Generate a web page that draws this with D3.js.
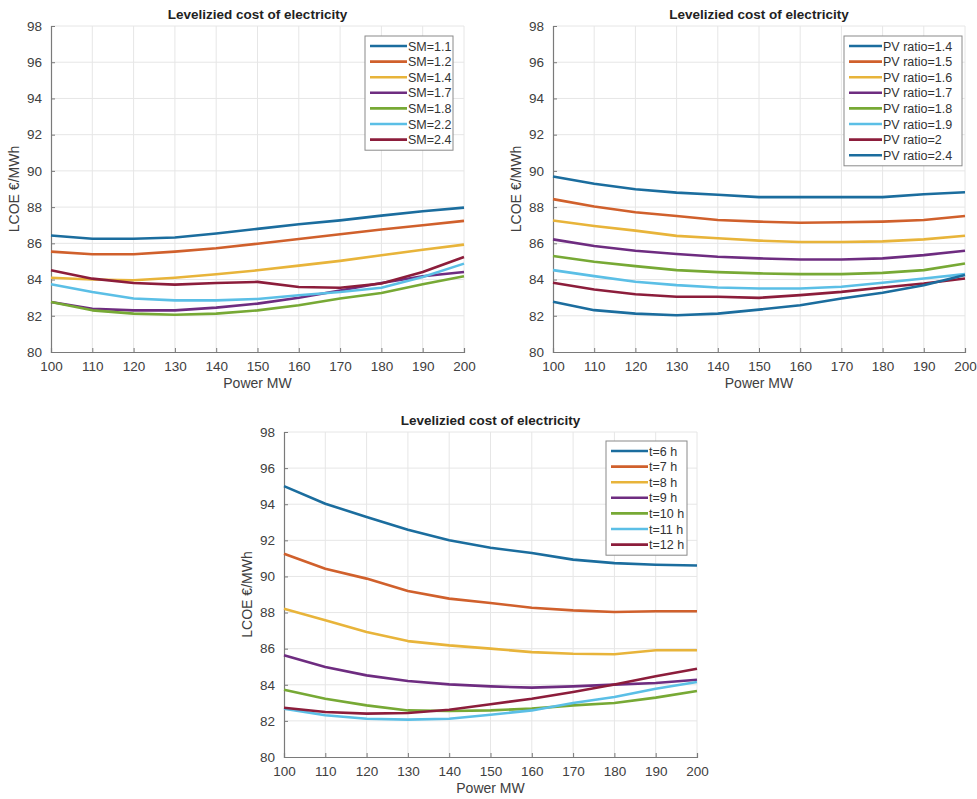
<!DOCTYPE html>
<html>
<head>
<meta charset="utf-8">
<script src="https://cdn.jsdelivr.net/npm/d3@7"></script>
<style>
  body { margin: 0; background: #fff; }
  svg text { font-family: "Liberation Sans", Arial, sans-serif; }
</style>
</head>
<body>
<svg id="chart" width="977" height="799"></svg>
<script>
// x values shared by all three panels (Power MW)
var power = [100, 110, 120, 130, 140, 150, 160, 170, 180, 190, 200];
var yTicks = [80, 82, 84, 86, 88, 90, 92, 94, 96, 98];

// panel 1 : solar multiple
var smLabels = ["SM=1.1", "SM=1.2", "SM=1.4", "SM=1.7", "SM=1.8", "SM=2.2", "SM=2.4"];
var sm11 = [86.43, 86.25, 86.25, 86.32, 86.54, 86.80, 87.05, 87.27, 87.53, 87.77, 87.97];
var sm12 = [85.54, 85.40, 85.40, 85.54, 85.73, 85.98, 86.24, 86.50, 86.76, 87.00, 87.24];
var sm14 = [84.10, 84.00, 83.96, 84.10, 84.29, 84.51, 84.77, 85.03, 85.34, 85.65, 85.93];
var sm17 = [82.76, 82.39, 82.30, 82.30, 82.45, 82.67, 83.00, 83.40, 83.81, 84.18, 84.42];
var sm18 = [82.76, 82.30, 82.12, 82.06, 82.12, 82.30, 82.58, 82.95, 83.26, 83.74, 84.18];
var sm22 = [83.74, 83.31, 82.95, 82.85, 82.85, 82.93, 83.13, 83.31, 83.55, 84.14, 84.88];
var sm24 = [84.51, 84.05, 83.81, 83.72, 83.81, 83.87, 83.59, 83.55, 83.78, 84.42, 85.25];

// panel 2 : PV ratio
var pvLabels = ["PV ratio=1.4", "PV ratio=1.5", "PV ratio=1.6", "PV ratio=1.7",
                "PV ratio=1.8", "PV ratio=1.9", "PV ratio=2", "PV ratio=2.4"];
var pv14 = [89.69, 89.29, 88.99, 88.80, 88.68, 88.55, 88.55, 88.55, 88.55, 88.71, 88.82];
var pv15 = [88.44, 88.03, 87.72, 87.51, 87.29, 87.20, 87.14, 87.16, 87.20, 87.29, 87.51];
var pv16 = [87.26, 86.96, 86.70, 86.41, 86.28, 86.15, 86.07, 86.07, 86.11, 86.22, 86.42];
var pv17 = [86.22, 85.85, 85.59, 85.41, 85.26, 85.17, 85.11, 85.11, 85.17, 85.35, 85.59];
var pv18 = [85.30, 84.98, 84.74, 84.52, 84.41, 84.34, 84.30, 84.30, 84.37, 84.52, 84.89];
var pv19 = [84.52, 84.19, 83.88, 83.69, 83.56, 83.51, 83.51, 83.60, 83.82, 84.06, 84.30];
var pv20 = [83.82, 83.45, 83.19, 83.05, 83.05, 82.99, 83.14, 83.32, 83.56, 83.78, 84.06];
var pv24 = [82.77, 82.31, 82.12, 82.03, 82.12, 82.34, 82.58, 82.95, 83.27, 83.69, 84.25];

// panel 3 : storage hours
var tLabels = ["t=6 h", "t=7 h", "t=8 h", "t=9 h", "t=10 h", "t=11 h", "t=12 h"];
var t6  = [95.00, 94.03, 93.29, 92.59, 92.00, 91.59, 91.30, 90.93, 90.74, 90.65, 90.61];
var t7  = [91.26, 90.43, 89.88, 89.19, 88.77, 88.53, 88.27, 88.12, 88.03, 88.07, 88.07];
var t8  = [88.21, 87.57, 86.92, 86.42, 86.18, 86.00, 85.81, 85.72, 85.69, 85.91, 85.91];
var t9  = [85.63, 84.98, 84.52, 84.21, 84.02, 83.91, 83.84, 83.91, 84.01, 84.10, 84.28];
var t10 = [83.73, 83.23, 82.86, 82.58, 82.55, 82.58, 82.68, 82.86, 82.99, 83.29, 83.66];
var t11 = [82.68, 82.31, 82.12, 82.07, 82.12, 82.34, 82.58, 82.99, 83.32, 83.78, 84.15];
var t12 = [82.73, 82.49, 82.40, 82.44, 82.62, 82.92, 83.23, 83.60, 84.02, 84.47, 84.89];

// matlab-ish line colours (slightly muted like the scan)
var colors = ["#1b6d9e", "#d0602c", "#e8b43a", "#6e2c80", "#77a935", "#5bbfe6", "#8c1d3b"];

var svg = d3.select("#chart");

function drawPanel(box, series, labels, legendBox) {
    var g = svg.append("g");
    var x = d3.scaleLinear().domain([100, 200]).range([box.x0, box.x1]);
    var y = d3.scaleLinear().domain([80, 98]).range([box.y1, box.y0]);

    //grid
    g.selectAll("line.vgrid").data(power.slice(1)).enter().append("line")
        .attr("x1", d => x(d)).attr("x2", d => x(d))
        .attr("y1", box.y0).attr("y2", box.y1)
        .attr("stroke", "#e6e6e6").attr("stroke-width", 1);
    g.selectAll("line.hgrid").data(yTicks.slice(1)).enter().append("line")
        .attr("x1", box.x0).attr("x2", box.x1)
        .attr("y1", d => y(d)).attr("y2", d => y(d))
        .attr("stroke", "#e6e6e6").attr("stroke-width", 1);

    //axes, ticks point inwards like matlab
    var xAxis = g.append("g").attr("transform", "translate(0," + box.y1 + ")")
        .call(d3.axisBottom(x).tickValues(power).tickSize(-4).tickPadding(9).tickFormat(d3.format("d")));
    var yAxis = g.append("g").attr("transform", "translate(" + box.x0 + ",0)")
        .call(d3.axisLeft(y).tickValues(yTicks).tickSize(-4).tickPadding(9).tickFormat(d3.format("d")));
    [xAxis, yAxis].forEach(function(a) {
        a.select(".domain").attr("stroke", "#7a7a7a").attr("stroke-width", 1.2);
        a.selectAll(".tick line").attr("stroke", "#7a7a7a");
        a.selectAll(".tick text").attr("fill", "#404040").attr("font-size", "13.5px");
    });

    //title and axis labels
    g.append("text").attr("x", (box.x0 + box.x1) / 2).attr("y", box.y0 - 7)
        .attr("text-anchor", "middle").attr("font-size", "13.5px").attr("font-weight", "bold")
        .attr("fill", "#222").text("Levelizied cost of electricity");
    g.append("text").attr("x", (box.x0 + box.x1) / 2).attr("y", box.y1 + 36)
        .attr("text-anchor", "middle").attr("font-size", "14px").attr("fill", "#404040")
        .text("Power MW");
    g.append("text")
        .attr("transform", "translate(" + (box.x0 - 32) + "," + ((box.y0 + box.y1) / 2) + ") rotate(-90)")
        .attr("text-anchor", "middle").attr("font-size", "14px").attr("fill", "#404040")
        .text("LCOE €/MWh");

    //lines
    var line = d3.line().x((d, i) => x(power[i])).y(d => y(d));
    series.forEach(function(s, i) {
        g.append("path").datum(s)
            .attr("d", line)
            .attr("fill", "none")
            .attr("stroke", colors[i % colors.length])
            .attr("stroke-width", 2.6)
            .attr("stroke-linejoin", "round");
    });

    //legend
    var lg = g.append("g");
    var rowH = 15.6;
    lg.append("rect")
        .attr("x", legendBox.x).attr("y", legendBox.y)
        .attr("width", legendBox.w).attr("height", labels.length * rowH + 5)
        .attr("fill", "#fff").attr("stroke", "#8a8a8a").attr("stroke-width", 1);
    labels.forEach(function(lab, i) {
        var yy = legendBox.y + 10 + i * rowH;
        lg.append("line")
            .attr("x1", legendBox.x + 5).attr("x2", legendBox.x + legendBox.lineW)
            .attr("y1", yy).attr("y2", yy)
            .attr("stroke", colors[i % colors.length]).attr("stroke-width", 2.6);
        lg.append("text")
            .attr("x", legendBox.x + legendBox.lineW + 1).attr("y", yy + 4.5)
            .attr("font-size", "12.5px").attr("fill", "#333").text(lab);
    });
}

drawPanel({x0: 51, x1: 464, y0: 26, y1: 352},
    [sm11, sm12, sm14, sm17, sm18, sm22, sm24], smLabels,
    {x: 365, y: 36, w: 88, lineW: 42});
drawPanel({x0: 553, x1: 965, y0: 26, y1: 352},
    [pv14, pv15, pv16, pv17, pv18, pv19, pv20, pv24], pvLabels,
    {x: 844, y: 36, w: 118, lineW: 38});
drawPanel({x0: 284, x1: 697, y0: 432, y1: 757},
    [t6, t7, t8, t9, t10, t11, t12], tLabels,
    {x: 606, y: 441, w: 81, lineW: 42});
</script>
</body>
</html>
